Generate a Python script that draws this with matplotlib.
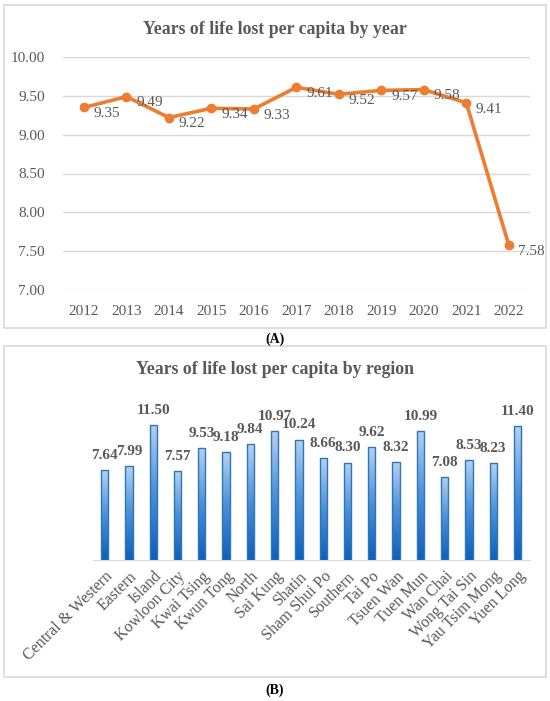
import numpy as np
import matplotlib
matplotlib.use('Agg')
import matplotlib.pyplot as plt
from matplotlib.patches import Rectangle
from matplotlib.colors import LinearSegmentedColormap

# data
years = ['2012', '2013', '2014', '2015', '2016', '2017', '2018', '2019', '2020', '2021', '2022']
yll_year = [9.35, 9.49, 9.22, 9.34, 9.33, 9.61, 9.52, 9.57, 9.58, 9.41, 7.58]
year_ticks = [7.00, 7.50, 8.00, 8.50, 9.00, 9.50, 10.00]

regions = ['Central & Western', 'Eastern', 'Island', 'Kowloon City', 'Kwai Tsing',
           'Kwun Tong', 'North', 'Sai Kung', 'Shatin', 'Sham Shui Po', 'Southern',
           'Tai Po', 'Tsuen Wan', 'Tuen Mun', 'Wan Chai', 'Wong Tai Sin',
           'Yau Tsim Mong', 'Yuen Long']
yll_region = [7.64, 7.99, 11.50, 7.57, 9.53, 9.18, 9.84, 10.97, 10.24, 8.66, 8.30,
              9.62, 8.32, 10.99, 7.08, 8.53, 8.23, 11.40]

plt.rcParams['font.family'] = ['Liberation Serif', 'DejaVu Serif']
TXT = '#595959'
GRID = '#D9D9D9'
ORANGE = '#ED7D31'

W, H = 550, 701
fig = plt.figure(figsize=(W / 100, H / 100), dpi=100)

def fx(px):
    return px / W

def fy(py):
    return 1 - py / H

# panel borders
for top, bot in [(4.5, 327.7), (345.7, 676.7)]:
    fig.patches.append(Rectangle((fx(4.3), fy(bot)), fx(545.7 - 4.3), (bot - top) / H,
                                 transform=fig.transFigure, fill=False,
                                 edgecolor=GRID, lw=1.2))

# ---- (A) line chart by year
ax1 = fig.add_axes([fx(62.7), fy(290), fx(530 - 62.7), (290 - 57) / H])
x = np.arange(len(years))
ax1.plot(x, yll_year, color=ORANGE, lw=2.6, marker='o', ms=6, zorder=3)
for xi, v in zip(x, yll_year):
    ax1.annotate(f'{v:.2f}', (xi, v), xytext=(7, -4.5), textcoords='offset points',
                 ha='left', va='center', fontsize=11, color=TXT)
ax1.set_xlim(-0.5, len(years) - 0.5)
ax1.set_ylim(7, 10)
ax1.set_yticks(year_ticks)
ax1.set_yticklabels([f'{t:.2f}' for t in year_ticks])
ax1.set_xticks(x)
ax1.set_xticklabels(years)
ax1.tick_params(axis='both', length=0, labelsize=11, labelcolor=TXT)
ax1.tick_params(axis='y', pad=13)
ax1.tick_params(axis='x', pad=11)
ax1.grid(axis='y', color=GRID, lw=1)
ax1.set_axisbelow(True)
for s in ax1.spines.values():
    s.set_visible(False)
fig.text(0.5, fy(29), 'Years of life lost per capita by year', ha='center', va='center',
         fontsize=12.8, fontweight='bold', color=TXT)
fig.text(fx(275), fy(339), '(A)', ha='center', va='center', fontsize=10,
         fontweight='bold', color='black')

# ---- (B) bar chart by region
ax2 = fig.add_axes([fx(92.5), fy(560), fx(529.6 - 92.5), 164.4 / H])
xr = np.arange(len(regions))
bars = ax2.bar(xr, yll_region, width=0.30, color='none', edgecolor='#2E75B6', lw=1.0, zorder=3)
cmap = LinearSegmentedColormap.from_list('blue', ['#0E5FBD', '#4A8FDA', '#B4D2F2'])
grad = np.linspace(0, 1, 256).reshape(-1, 1)
for b in bars:
    bx, by = b.get_x(), b.get_y()
    bw, bh = b.get_width(), b.get_height()
    im = ax2.imshow(grad, cmap=cmap, origin='lower', aspect='auto',
                    extent=(bx, bx + bw, by, by + bh), zorder=2)
    im.set_clip_path(b)
    ax2.annotate(f'{b.get_height():.2f}', (bx + bw / 2, bh), xytext=(0, 6),
                 textcoords='offset points', ha='center', va='bottom',
                 fontsize=11, fontweight='bold', color=TXT)
ax2.set_xlim(-0.5, len(regions) - 0.5)
ax2.set_ylim(0, 14)
ax2.set_yticks([])
ax2.set_xticks(xr)
ax2.set_xticklabels(regions, rotation=45, ha='right', rotation_mode='anchor')
ax2.tick_params(axis='x', length=0, labelsize=11.5, labelcolor=TXT, pad=6)
for k, s in ax2.spines.items():
    s.set_visible(k == 'bottom')
ax2.spines['bottom'].set_color(GRID)
fig.text(0.5, fy(369), 'Years of life lost per capita by region', ha='center', va='center',
         fontsize=12.8, fontweight='bold', color=TXT)
fig.text(fx(275), fy(690), '(B)', ha='center', va='center', fontsize=10,
         fontweight='bold', color='black')

fig.savefig('out.png', dpi=100)
